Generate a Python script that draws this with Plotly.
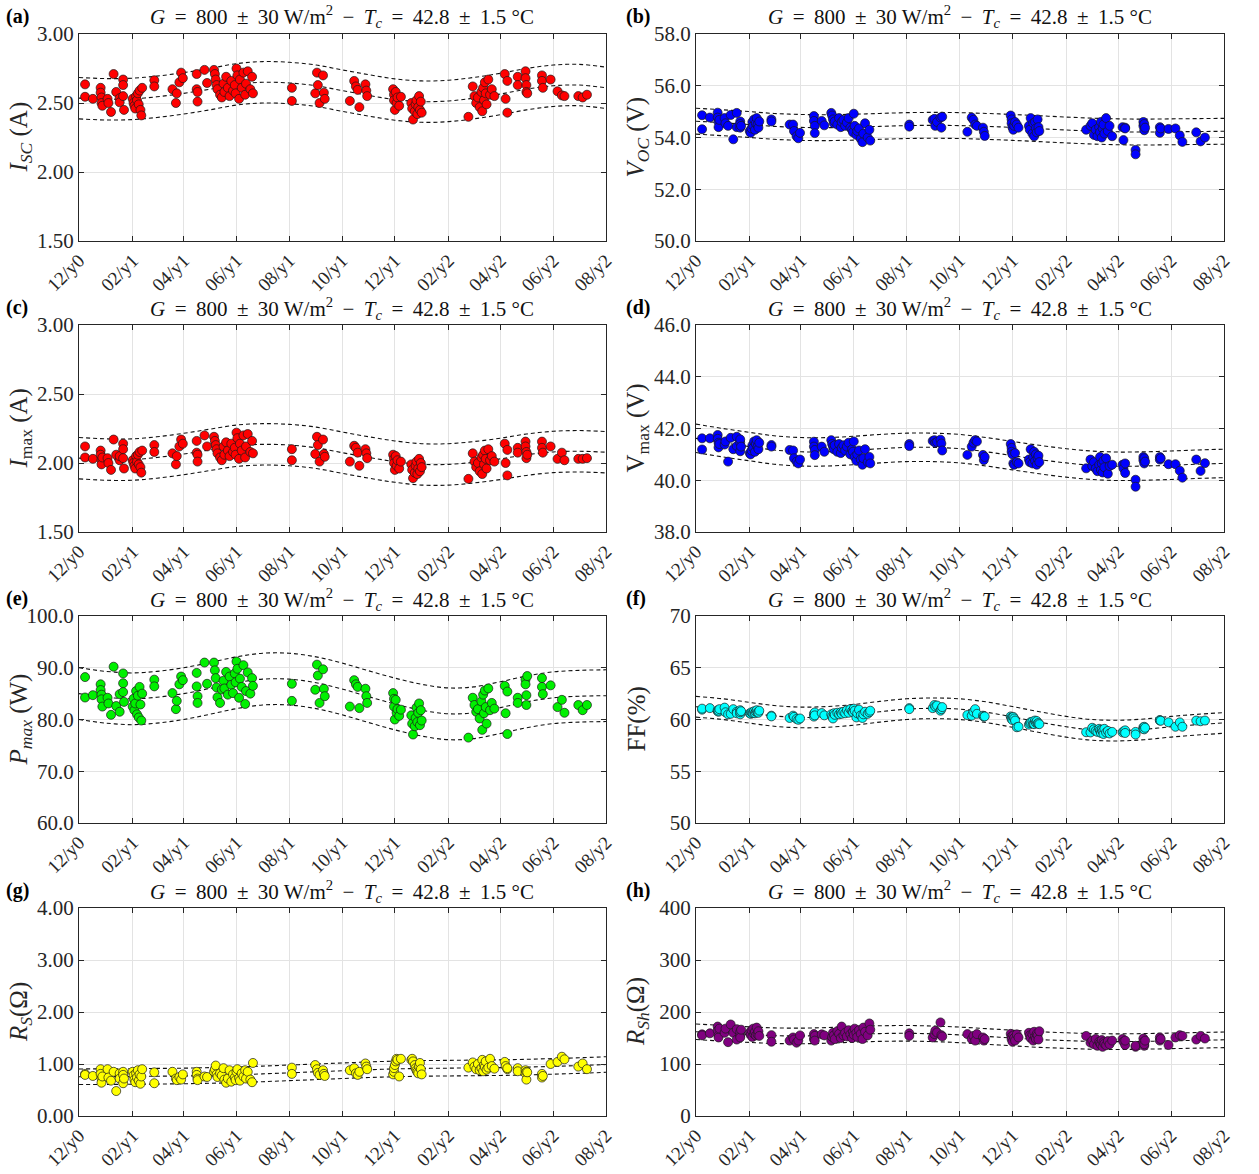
import pandas as pd
import plotly.graph_objects as go
from plotly.subplots import make_subplots

START = pd.Timestamp("2018-12-01")  # "12/y0"
END = pd.Timestamp("2020-08-01")    # "08/y2"

# ---- measurement days (days after 12/y0), grouped by campaign ----
day_groups = [
    [7, 7], [16], [25, 25, 26, 26, 27], [33, 34, 37], [40, 43, 47, 47], [51, 51, 51, 52],
    [62, 63, 64, 65, 66, 67, 68, 69, 70, 71, 72, 73], [87, 87], [108, 112, 113, 116, 118, 120],
    [136, 136, 137, 137], [145, 148],
    [156, 157, 158, 159, 160, 163, 165, 167, 168, 170, 172, 174, 176, 178, 180, 181, 182, 183,
     185, 186, 188, 190, 192, 193, 195, 198, 200, 201],
    [246, 246], [273, 275, 276, 278, 282, 283, 284], [313, 318, 320, 322, 324, 331, 332, 333],
    [363, 364, 364, 365, 366, 367, 368, 370, 372],
    [384, 385, 386, 388, 389, 390, 391, 392, 393, 394, 395, 396], [450],
    [455, 457, 459, 461, 463, 465, 466, 467, 468, 469, 470, 471, 473, 475, 477, 480],
    [492, 493, 495, 495], [507, 507, 516, 516, 517, 517, 518], [535, 535, 536, 545],
    [553, 558, 561], [577, 582, 587],
]

isc = [
    [2.635, 2.545], [2.53], [2.61, 2.575, 2.54, 2.50, 2.48], [2.53, 2.50, 2.435], [2.71, 2.58, 2.535, 2.505],
    [2.67, 2.63, 2.55, 2.45], [2.53, 2.50, 2.48, 2.46, 2.55, 2.52, 2.57, 2.49, 2.59, 2.45, 2.41, 2.61],
    [2.665, 2.62], [2.60, 2.50, 2.57, 2.65, 2.72, 2.68], [2.71, 2.60, 2.58, 2.51], [2.74, 2.645],
    [2.74, 2.71, 2.67, 2.63, 2.60, 2.56, 2.54, 2.64, 2.58, 2.69, 2.61, 2.55, 2.66, 2.59, 2.63, 2.57, 2.75,
     2.70, 2.53, 2.67, 2.61, 2.72, 2.56, 2.64, 2.73, 2.60, 2.69, 2.57],
    [2.61, 2.515], [2.57, 2.72, 2.63, 2.50, 2.70, 2.575, 2.53], [2.515, 2.66, 2.62, 2.595, 2.47, 2.635, 2.59, 2.55],
    [2.60, 2.56, 2.52, 2.45, 2.58, 2.50, 2.54, 2.48, 2.545],
    [2.50, 2.46, 2.38, 2.44, 2.49, 2.52, 2.42, 2.47, 2.55, 2.45, 2.51, 2.43], [2.40],
    [2.62, 2.55, 2.50, 2.54, 2.47, 2.58, 2.44, 2.61, 2.52, 2.65, 2.57, 2.49, 2.67, 2.56, 2.60, 2.55],
    [2.71, 2.53, 2.66, 2.43], [2.69, 2.63, 2.73, 2.68, 2.63, 2.58, 2.57], [2.70, 2.66, 2.61, 2.67],
    [2.585, 2.555, 2.55], [2.55, 2.54, 2.56],
]

voc = [
    [54.86, 54.32], [54.77], [54.96, 54.77, 54.6, 54.4, 54.68], [54.75, 54.55, 54.45], [54.87, 53.93, 54.95, 54.4],
    [54.62, 54.38, 54.52, 54.45], [54.25, 54.18, 54.35, 54.6, 54.45, 54.7, 54.3, 54.55, 54.75, 54.5, 54.38, 54.62],
    [54.7, 54.62], [54.5, 54.5, 54.25, 54.05, 53.97, 54.18], [54.83, 54.64, 54.45, 54.17], [54.64, 54.47],
    [54.95, 54.85, 54.7, 54.55, 54.62, 54.5, 54.75, 54.4, 54.6, 54.68, 54.45, 54.58, 54.75, 54.38, 54.3, 54.2,
     54.92, 54.45, 54.1, 54.25, 54.35, 53.95, 53.82, 54.15, 54.55, 54.0, 54.3, 53.88],
    [54.5, 54.42], [54.68, 54.72, 54.45, 54.6, 54.77, 54.38, 54.8], [54.22, 54.77, 54.68, 54.5, 54.45, 54.38, 54.22, 54.06],
    [54.85, 54.7, 54.55, 54.4, 54.3, 54.45, 54.6, 54.5, 54.38],
    [54.45, 54.3, 54.75, 54.15, 54.55, 54.05, 54.6, 54.35, 54.2, 54.7, 54.4, 54.25], [54.3],
    [54.45, 54.55, 54.1, 54.3, 54.05, 54.4, 54.2, 54.6, 54.0, 54.35, 54.5, 54.15, 54.75, 54.25, 54.45, 54.05],
    [54.4, 53.9, 54.38, 54.35], [53.52, 53.35, 54.6, 54.45, 54.28, 54.52, 54.38], [54.4, 54.18, 54.35, 54.33],
    [54.35, 54.08, 53.83], [54.2, 53.85, 54.0],
]

imax = [
    [2.12, 2.04], [2.03], [2.09, 2.06, 2.02, 1.99, 2.04], [2.035, 2.0, 1.95], [2.17, 2.06, 2.02, 2.05],
    [2.14, 2.10, 2.035, 1.96], [2.02, 2.0, 1.98, 1.96, 2.05, 2.01, 2.06, 1.99, 2.08, 1.97, 1.93, 2.09],
    [2.13, 2.08], [2.07, 1.99, 2.05, 2.12, 2.17, 2.14], [2.16, 2.075, 2.06, 2.01], [2.20, 2.12],
    [2.19, 2.16, 2.13, 2.10, 2.07, 2.04, 2.02, 2.12, 2.06, 2.15, 2.09, 2.05, 2.14, 2.08, 2.11, 2.06, 2.22,
     2.18, 2.03, 2.14, 2.09, 2.20, 2.04, 2.12, 2.21, 2.08, 2.16, 2.07],
    [2.10, 2.02], [2.065, 2.19, 2.13, 2.01, 2.17, 2.065, 2.045], [2.01, 2.125, 2.11, 2.075, 1.98, 2.10, 2.07, 2.035],
    [2.06, 2.03, 2.0, 1.95, 2.05, 1.98, 2.02, 1.96, 2.01],
    [1.99, 1.95, 1.89, 1.93, 1.98, 2.01, 1.92, 1.96, 2.03, 1.94, 2.0, 1.97], [1.885],
    [2.07, 2.01, 1.97, 2.0, 1.94, 2.04, 1.92, 2.06, 1.99, 2.09, 2.03, 1.96, 2.10, 2.02, 2.05, 2.01],
    [2.14, 2.0, 2.095, 1.91], [2.11, 2.075, 2.155, 2.12, 2.08, 2.035, 2.06], [2.155, 2.11, 2.075, 2.12],
    [2.03, 2.075, 2.02], [2.03, 2.03, 2.035],
]

vmax = [
    [41.62, 41.19], [41.62], [41.75, 41.6, 41.45, 41.27, 41.4], [41.38, 41.5, 40.72], [41.64, 41.2, 41.68, 41.32],
    [41.45, 41.58, 41.12, 41.3], [41.05, 41.0, 41.15, 41.35, 41.25, 41.5, 41.1, 41.4, 41.55, 41.3, 41.2, 41.45],
    [41.36, 41.3], [41.17, 41.15, 40.85, 40.72, 40.65, 40.8], [41.49, 41.3, 41.17, 40.97], [41.3, 41.1],
    [41.55, 41.4, 41.3, 41.2, 41.35, 41.1, 41.4, 41.05, 41.25, 41.35, 41.15, 41.3, 41.45, 41.0, 41.2, 41.1,
     41.5, 40.9, 40.75, 41.0, 41.15, 40.8, 40.6, 40.85, 41.2, 40.7, 40.9, 40.65],
    [41.4, 41.32], [41.52, 41.55, 41.45, 41.48, 41.57, 41.42, 41.15], [40.98, 41.3, 41.45, 41.55, 41.5, 40.98, 40.78, 40.9],
    [41.4, 41.25, 41.1, 41.0, 40.65, 40.6, 41.05, 40.7, 40.65],
    [40.8, 40.7, 41.2, 40.65, 40.9, 41.1, 40.75, 41.0, 40.6, 40.85, 40.95, 40.7], [40.46],
    [40.8, 40.55, 40.7, 40.45, 40.35, 40.6, 40.9, 40.4, 40.65, 40.3, 40.75, 40.5, 40.85, 40.25, 40.55, 40.6],
    [40.6, 40.46, 40.28, 40.65], [40.02, 39.75, 40.9, 40.78, 40.65, 40.85, 40.72], [40.9, 40.8, 40.85, 40.62],
    [40.62, 40.37, 40.1], [40.8, 40.36, 40.66],
]

pmax = [
    [88.2, 84.25], [84.7], [86.8, 85.7, 84.8, 83.9, 82.5], [84.2, 83.1, 80.9], [90.2, 82.6, 84.9, 81.5],
    [88.9, 87.0, 85.3, 83.4], [82.5, 84.0, 81.8, 83.1, 85.5, 81.0, 84.6, 80.4, 86.3, 82.9, 79.8, 85.0],
    [87.7, 86.4], [85.1, 82.0, 83.6, 86.8, 88.3, 87.6], [89.0, 86.4, 84.5, 83.2], [91.0, 86.9],
    [91.0, 89.5, 88.0, 86.2, 84.3, 83.2, 85.8, 87.5, 86.0, 89.2, 84.8, 88.3, 86.7, 85.1, 88.9, 87.2, 91.2,
     89.8, 84.2, 87.9, 86.3, 90.5, 83.0, 85.5, 89.1, 85.0, 88.0, 86.5],
    [86.9, 83.6], [85.75, 90.6, 88.5, 83.2, 89.7, 85.95, 84.5], [82.5, 87.6, 86.8, 86.3, 82.2, 85.95, 84.5, 83.2],
    [85.1, 84.0, 82.5, 80.0, 83.8, 81.3, 82.0, 80.7, 81.9],
    [80.8, 79.2, 77.1, 78.7, 80.3, 82.3, 79.5, 81.3, 83.1, 78.9, 81.8, 79.8], [76.5],
    [84.2, 82.8, 81.5, 82.0, 80.2, 83.5, 78.0, 84.8, 81.2, 85.6, 82.4, 79.2, 86.0, 81.8, 83.2, 82.1],
    [86.5, 81.2, 85.4, 77.2], [84.2, 83.2, 87.7, 86.8, 84.7, 82.8, 88.4], [88.0, 86.3, 84.9, 86.6],
    [82.4, 83.8, 81.3], [82.8, 81.8, 82.8],
]

ff = [
    [60.95, 61.05], [61.1], [60.8, 60.9, 60.75, 60.85, 61.0], [61.15, 60.7, 60.5], [60.55, 61.0, 60.75, 60.6],
    [60.9, 60.5, 60.7, 60.8], [60.6, 60.55, 60.7, 60.6, 60.65, 60.8, 60.6, 60.75, 60.9, 60.7, 60.65, 60.85],
    [60.37, 60.3], [60.15, 60.37, 60.25, 60.05, 59.97, 60.1], [60.55, 60.28, 60.68, 60.4], [60.62, 60.4],
    [60.5, 60.3, 60.1, 60.6, 60.45, 60.65, 60.5, 60.7, 60.55, 60.75, 60.6, 60.9, 60.65, 61.0, 60.8, 60.7,
     61.05, 60.85, 60.2, 60.6, 60.95, 60.4, 60.15, 60.5, 60.75, 60.55, 60.7, 60.85],
    [61.1, 61.0], [61.1, 61.4, 61.25, 61.35, 60.85, 61.0, 61.2], [60.43, 60.37, 60.75, 61.0, 60.55, 60.37, 60.27, 60.3],
    [60.3, 60.2, 60.05, 59.95, 60.25, 60.1, 59.9, 59.25, 59.3],
    [59.5, 59.65, 59.75, 59.8, 59.6, 59.55, 59.9, 59.7, 59.85, 59.6, 59.65, 59.55], [58.77],
    [58.75, 59.2, 59.05, 58.9, 58.8, 59.1, 58.95, 58.7, 59.0, 58.85, 58.6, 59.1, 58.75, 58.9, 58.65, 58.8],
    [58.75, 58.85, 58.95, 58.7], [58.8, 58.55, 59.25, 59.1, 59.3, 59.05, 59.2], [59.95, 59.9, 59.88, 59.73],
    [59.3, 59.72, 59.3], [59.9, 59.83, 59.9],
]

rs = [
    [0.81, 0.79], [0.77], [0.90, 0.81, 0.72, 0.64, 0.76], [0.90, 0.74, 0.68], [0.85, 0.48, 0.82, 0.72],
    [0.85, 0.79, 0.63, 0.72], [0.85, 0.78, 0.70, 0.65, 0.82, 0.74, 0.88, 0.68, 0.80, 0.62, 0.76, 0.90],
    [0.84, 0.63], [0.85, 0.72, 0.69, 0.75, 0.70, 0.80], [0.85, 0.79, 0.72, 0.69], [0.76, 0.75],
    [0.85, 0.90, 0.97, 0.80, 0.75, 0.82, 0.78, 0.92, 0.70, 0.64, 0.72, 0.88, 0.66, 0.80, 0.74, 0.69, 0.85,
     0.90, 0.73, 0.68, 0.82, 0.76, 0.88, 0.72, 0.85, 0.70, 0.65, 1.02],
    [0.93, 0.81], [0.98, 0.90, 0.83, 0.79, 0.88, 0.81, 0.77], [0.88, 0.92, 0.82, 0.79, 0.85, 1.01, 0.95, 0.90],
    [0.80, 0.85, 0.92, 0.98, 1.05, 1.10, 1.08, 0.76, 1.10],
    [1.08, 1.10, 1.05, 0.98, 0.92, 0.88, 0.85, 0.82, 0.95, 1.02, 0.90, 0.80], [0.93],
    [1.03, 0.95, 0.90, 1.0, 0.88, 0.92, 1.08, 0.86, 0.98, 0.94, 1.05, 0.89, 0.93, 1.10, 0.96, 0.91],
    [1.04, 0.96, 0.90, 0.92], [0.92, 0.86, 0.88, 0.82, 0.70, 0.85, 0.84], [0.81, 0.74, 0.77, 1.00],
    [1.04, 1.14, 1.09], [0.95, 1.01, 0.90],
]

rsh = [
    [157, 155], [159], [172, 164, 155, 151, 168], [160, 168, 142], [176, 160, 167, 147],
    [155, 162, 151, 166], [160, 156, 165, 152, 168, 158, 162, 155, 170, 157, 163, 154],
    [155.5, 142.8], [145, 151, 147, 141, 145, 155], [157.5, 148, 154, 145], [157, 155],
    [145, 152, 160, 155, 148, 163, 158, 150, 172, 155, 160, 153, 165, 157, 150, 162, 156, 168,
     160, 152, 165, 158, 148, 170, 162, 155, 178, 166],
    [159, 154], [151, 157.5, 164, 160.6, 180, 155.5, 153], [157.5, 148, 154, 145, 157.5, 151, 145, 148],
    [158, 153, 148, 143, 155, 150, 145, 157, 151],
    [160, 155, 150, 157, 145, 162, 152, 148, 158, 155, 147, 163], [154],
    [141, 145, 138, 148, 135, 143, 140, 137, 146, 133, 142, 139, 136, 144, 138, 145],
    [148, 143, 136.5, 145], [133, 135, 149, 142, 135, 138, 145], [151, 145, 148, 136.5],
    [151, 155.5, 154], [147, 154, 149],
]

# ---- fitted seasonal curves: monthly central values (12/y0 ... 08/y2) and half-band widths ----
isc_fit = [2.535, 2.527, 2.53, 2.545, 2.57, 2.60, 2.635, 2.65, 2.645, 2.625, 2.59, 2.555, 2.525, 2.51,
           2.515, 2.535, 2.565, 2.60, 2.625, 2.63, 2.61]
voc_fit = [54.63, 54.57, 54.5, 54.43, 54.39, 54.38, 54.4, 54.43, 54.46, 54.47, 54.46, 54.43, 54.39, 54.34,
           54.29, 54.25, 54.22, 54.21, 54.22, 54.23, 54.24]
imax_fit = [2.035, 2.025, 2.025, 2.04, 2.065, 2.095, 2.125, 2.135, 2.13, 2.11, 2.075, 2.04, 2.01, 1.99,
            1.99, 2.005, 2.03, 2.06, 2.08, 2.085, 2.078]
vmax_fit = [41.62, 41.45, 41.3, 41.17, 41.1, 41.1, 41.15, 41.22, 41.27, 41.27, 41.22, 41.1, 40.95, 40.8,
            40.67, 40.58, 40.54, 40.55, 40.58, 40.62, 40.65]
pmax_fit = [85.0, 84.3, 84.0, 84.3, 85.0, 86.0, 87.1, 87.8, 87.8, 87.1, 85.9, 84.4, 83.0, 81.8,
            81.1, 81.3, 82.3, 83.4, 84.2, 84.5, 84.6]
ff_fit = [61.23, 61.0, 60.65, 60.35, 60.2, 60.25, 60.45, 60.75, 61.0, 61.08, 61.0, 60.7, 60.25, 59.75,
          59.3, 59.0, 58.93, 59.05, 59.3, 59.5, 59.67]
rs_fit = [0.755, 0.757, 0.76, 0.765, 0.77, 0.78, 0.79, 0.81, 0.83, 0.85, 0.87, 0.89, 0.905, 0.915,
          0.92, 0.925, 0.93, 0.94, 0.955, 0.97, 0.99]
rsh_fit = [162, 159, 156.5, 154.5, 154, 155, 157, 158.5, 159, 158, 156, 153, 150, 147,
           145, 143.5, 143, 143.5, 144.5, 145.5, 146.5]
bands = [0.15, 0.5, 0.15, 0.55, 5.0, 1.0, 0.15, 15.0]

tick_labels = ["12/y0", "02/y1", "04/y1", "06/y1", "08/y1", "10/y1", "12/y1",
               "02/y2", "04/y2", "06/y2", "08/y2"]

panel_letters = ["(a)", "(b)", "(c)", "(d)", "(e)", "(f)", "(g)", "(h)"]
y_titles = [
    "<i>I</i><sub><i>SC</i></sub> (A)", "<i>V</i><sub><i>OC</i></sub> (V)",
    "<i>I</i><sub>max</sub> (A)", "V<sub>max</sub> (V)",
    "<i>P</i><sub><i>max</i></sub> (W)", "FF(%)",
    "<i>R</i><sub><i>S</i></sub>(Ω)", "<i>R</i><sub><i>Sh</i></sub>(Ω)",
]
y_ranges = [(1.5, 3.0), (50, 58), (1.5, 3.0), (38, 46), (60, 100), (50, 70), (0, 4), (0, 400)]
y_dticks = [0.5, 2, 0.5, 2, 10, 5, 1, 100]
y_formats = [".2f", ".1f", ".2f", ".1f", ".1f", "d", ".2f", "d"]
colors = ["#ff0000", "#0000ff", "#ff0000", "#0000ff", "#00f000", "#00ffff", "#ffff00", "#800080"]

values = [isc, voc, imax, vmax, pmax, ff, rs, rsh]
fits = [isc_fit, voc_fit, imax_fit, vmax_fit, pmax_fit, ff_fit, rs_fit, rsh_fit]

TS = "\u2009"
TITLE = ("<i>G</i> " + TS + "=" + TS + " 800 " + TS + "±" + TS + " 30 W/m<sup>2</sup> " + TS + "−" + TS +
         " <i>T</i><sub><i>c</i></sub> " + TS + "=" + TS + " 42.8 " + TS + "±" + TS + " 1.5 °C")
FONT = "Liberation Serif"

W, H = 1259, 1174
col_px = [(79, 606), (696, 1224)]
row_px = [(34, 241), (325, 532), (616, 823), (908, 1116)]

fig = make_subplots(rows=4, cols=2)

months = pd.date_range(START, END, freq="MS")
tick_dates = pd.date_range(START, END, freq="2MS")

for i in range(8):
    r, c = i // 2, i % 2
    xs, ys = [], []
    for days, vals in zip(day_groups, values[i]):
        for d, v in zip(days, vals):
            xs.append(START + pd.Timedelta(days=d))
            ys.append(v)
    fit = fits[i]
    b = bands[i]
    for off in (b, 0.0, -b):
        fig.add_trace(go.Scatter(
            x=months, y=[f + off for f in fit], mode="lines", line_shape="spline",
            line=dict(color="#111111", width=1.1, dash="4px,3px"),
            showlegend=False, hoverinfo="skip"), row=r + 1, col=c + 1)
    fig.add_trace(go.Scatter(
        x=xs, y=ys, mode="markers",
        marker=dict(size=9, color=colors[i], line=dict(color="#1a1a1a", width=0.7)),
        showlegend=False), row=r + 1, col=c + 1)

    x0, x1 = col_px[c]
    y0, y1 = row_px[r]
    ax = "" if i == 0 else str(i + 1)
    axis_common = dict(showline=True, linecolor="#262626", linewidth=1, mirror="allticks",
                       ticks="inside", ticklen=5, tickcolor="#262626", showgrid=True,
                       gridcolor="#e3e3e3", gridwidth=1, zeroline=False, automargin=False)
    fig.layout["xaxis" + ax].update(
        domain=[x0 / W, x1 / W], range=[START, END], tickvals=list(tick_dates),
        ticktext=tick_labels, tickangle=-45,
        tickfont=dict(family=FONT, size=19, color="#262626"), **axis_common)
    fig.layout["yaxis" + ax].update(
        domain=[1 - y1 / H, 1 - y0 / H], range=list(y_ranges[i]), dtick=y_dticks[i],
        tick0=y_ranges[i][0], tickformat=y_formats[i],
        tickfont=dict(family=FONT, size=21, color="#262626"), **axis_common)

    # title
    fig.add_annotation(x=(x0 + x1) / 2 / W, y=1 - (y0 - 17) / H, xref="paper", yref="paper",
                       text=TITLE, showarrow=False, xanchor="center", yanchor="middle",
                       font=dict(family=FONT, size=21, color="#111111"))
    # panel letter
    fig.add_annotation(x=(4 if c == 0 else 624) / W, y=1 - (y0 - 18) / H, xref="paper", yref="paper",
                       text="<b>" + panel_letters[i] + "</b>", showarrow=False,
                       xanchor="left", yanchor="middle",
                       font=dict(family=FONT, size=20, color="#000000"))
    # y title
    fig.add_annotation(x=(x0 - 59) / W, y=1 - (y0 + y1) / 2 / H, xref="paper", yref="paper",
                       text=y_titles[i], showarrow=False, textangle=-90,
                       xanchor="center", yanchor="middle",
                       font=dict(family=FONT, size=25, color="#262626"))

fig.update_layout(width=W, height=H, margin=dict(l=0, r=0, t=0, b=0, autoexpand=False),
                  paper_bgcolor="white", plot_bgcolor="white",
                  font=dict(family=FONT), showlegend=False)

fig.write_html("out.html")
